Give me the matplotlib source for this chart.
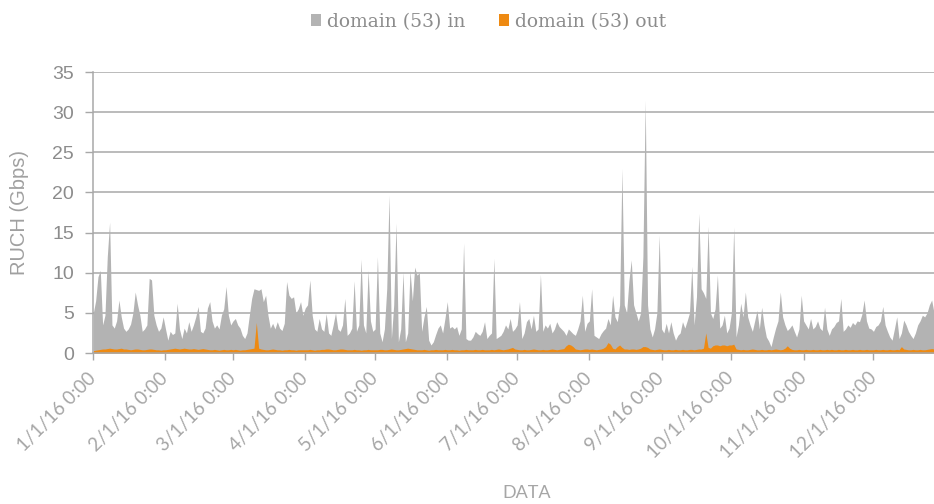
import numpy as np
import matplotlib
matplotlib.use("Agg")
import matplotlib.pyplot as plt
from matplotlib.patches import Patch

# ---- data (daily values, 2016-01-01 .. 2016-12-27) ----
start_date = "2016-01-01"

in_jan = [5.0, 6.5, 9.5, 10.3, 3.5, 4.7, 12.0, 16.3, 3.5, 3.1, 4.0, 6.6, 4.5, 3.1, 2.7, 3.0,
          3.6, 5.0, 7.6, 6.0, 4.7, 2.7, 3.0, 3.5, 9.3, 9.1, 4.7, 3.5, 2.7, 3.1, 4.5]
in_feb = [3.0, 1.6, 2.7, 2.3, 2.5, 6.2, 3.0, 1.8, 3.1, 2.5, 3.9, 2.7, 3.5, 4.5, 5.8, 2.7,
          2.5, 3.1, 5.6, 6.4, 4.0, 3.1, 3.5, 3.0, 4.7, 5.5, 8.3, 4.7, 3.5]
in_mar = [4.0, 4.3, 3.5, 3.1, 2.2, 1.8, 2.5, 4.7, 6.8, 8.0, 7.9, 7.8, 8.0, 6.4, 7.2, 4.7,
          3.1, 3.7, 3.0, 3.9, 3.1, 2.8, 3.7, 8.9, 7.2, 6.8, 7.0, 5.0, 5.5, 6.4, 4.7]
in_apr = [5.6, 6.0, 9.1, 4.7, 3.0, 2.7, 4.3, 3.0, 2.7, 4.9, 2.5, 2.2, 3.5, 5.0, 3.0,
          2.7, 3.5, 6.8, 2.2, 2.5, 3.1, 9.0, 2.7, 3.5, 11.7, 3.5, 2.5, 10.3, 4.0, 2.7]
in_may = [3.0, 12.0, 2.5, 1.4, 3.0, 8.0, 19.7, 1.8, 6.0, 16.2, 1.4, 3.0, 10.1, 1.4, 2.5, 10.3,
          6.5, 10.7, 9.7, 10.0, 2.7, 4.5, 5.8, 1.6, 1.0, 1.4, 2.3, 3.1, 3.5, 2.5, 4.3]
in_jun = [6.4, 3.1, 3.3, 3.0, 3.3, 2.2, 3.0, 13.7, 1.8, 1.6, 1.6, 2.0, 2.7, 2.4, 2.2,
          2.7, 3.9, 1.8, 2.2, 2.5, 11.8, 1.8, 2.0, 2.2, 2.7, 3.5, 3.0, 4.3, 2.7, 3.0]
in_jul = [3.5, 6.4, 1.8, 2.5, 3.9, 4.3, 3.0, 4.7, 2.7, 3.0, 9.8, 2.7, 3.5, 3.1, 3.7, 2.5,
          3.0, 3.9, 3.3, 3.0, 2.7, 2.2, 3.0, 2.7, 2.4, 2.2, 3.0, 4.0, 7.2, 2.7, 3.7]
in_aug = [4.0, 8.0, 2.2, 2.0, 1.8, 2.4, 2.8, 3.1, 4.3, 3.5, 7.2, 4.5, 3.9, 6.0, 23.0, 6.0,
          5.0, 9.0, 11.6, 6.0, 5.0, 4.0, 5.0, 12.0, 31.5, 6.0, 3.0, 2.0, 3.0, 5.0, 14.7]
in_sep = [3.0, 2.5, 3.7, 2.5, 3.9, 2.5, 1.6, 2.2, 2.5, 3.9, 3.1, 4.0, 5.0, 10.8, 3.5,
          7.0, 17.4, 8.0, 7.5, 6.8, 15.8, 5.0, 4.3, 5.5, 9.7, 3.1, 3.5, 4.7, 2.5, 3.1]
in_oct = [5.0, 15.7, 2.0, 3.5, 6.2, 4.5, 7.6, 4.5, 3.5, 2.7, 4.0, 5.3, 3.0, 5.7, 3.5, 2.0,
          1.5, 0.8, 2.0, 3.1, 4.0, 7.6, 4.5, 3.5, 2.8, 3.1, 3.5, 2.7, 2.0, 3.0, 7.2]
in_nov = [4.0, 3.5, 3.0, 4.3, 3.0, 3.3, 4.0, 3.1, 2.8, 5.7, 3.0, 2.2, 3.0, 3.3, 3.8,
          4.0, 6.8, 2.7, 3.0, 3.5, 3.2, 3.8, 3.5, 4.0, 3.9, 4.8, 6.6, 4.0, 3.1, 3.0]
in_dec = [2.7, 3.3, 3.5, 4.0, 5.8, 3.5, 2.7, 2.0, 1.6, 3.0, 4.5, 1.8, 2.5, 4.1, 3.5, 2.7,
          2.2, 1.8, 2.5, 3.5, 4.0, 4.7, 4.5, 5.0, 6.0, 6.6, 5.0]

out_jan = [0.3, 0.35, 0.4, 0.45, 0.5, 0.5, 0.55, 0.6, 0.55, 0.5, 0.5, 0.55, 0.6, 0.5, 0.5, 0.45,
           0.4, 0.45, 0.5, 0.5, 0.45, 0.4, 0.4, 0.45, 0.5, 0.5, 0.45, 0.4, 0.4, 0.35, 0.4]
out_feb = [0.4, 0.45, 0.5, 0.55, 0.6, 0.55, 0.5, 0.55, 0.6, 0.55, 0.5, 0.5, 0.55, 0.5, 0.45,
           0.5, 0.55, 0.5, 0.45, 0.4, 0.4, 0.45, 0.4, 0.35, 0.4, 0.45, 0.4, 0.4, 0.45]
out_mar = [0.4, 0.45, 0.4, 0.35, 0.4, 0.4, 0.45, 0.5, 0.55, 0.6, 3.8, 0.6, 0.5, 0.45, 0.4, 0.4,
           0.45, 0.5, 0.45, 0.4, 0.4, 0.35, 0.4, 0.4, 0.45, 0.4, 0.4, 0.35, 0.4, 0.4, 0.4]
out_apr = [0.4, 0.4, 0.45, 0.4, 0.35, 0.4, 0.4, 0.45, 0.45, 0.5, 0.5, 0.45, 0.4, 0.4, 0.45,
           0.5, 0.5, 0.45, 0.4, 0.4, 0.4, 0.45, 0.4, 0.4, 0.35, 0.4, 0.4, 0.45, 0.4, 0.4]
out_may = [0.4, 0.4, 0.45, 0.45, 0.4, 0.4, 0.45, 0.5, 0.45, 0.4, 0.4, 0.45, 0.5, 0.55, 0.6, 0.55,
           0.5, 0.45, 0.4, 0.4, 0.4, 0.45, 0.4, 0.35, 0.4, 0.4, 0.45, 0.4, 0.4, 0.4, 0.45]
out_jun = [0.4, 0.4, 0.45, 0.4, 0.4, 0.35, 0.4, 0.4, 0.45, 0.4, 0.4, 0.4, 0.45, 0.4, 0.4,
           0.45, 0.4, 0.4, 0.4, 0.45, 0.4, 0.45, 0.5, 0.45, 0.4, 0.45, 0.5, 0.6, 0.7, 0.5]
out_jul = [0.45, 0.4, 0.4, 0.45, 0.4, 0.4, 0.45, 0.5, 0.45, 0.4, 0.4, 0.45, 0.4, 0.4, 0.45, 0.5,
           0.45, 0.4, 0.45, 0.5, 0.55, 0.9, 1.1, 1.0, 0.8, 0.5, 0.45, 0.4, 0.45, 0.5, 0.5]
out_aug = [0.45, 0.5, 0.45, 0.4, 0.45, 0.5, 0.6, 0.8, 1.3, 1.1, 0.6, 0.5, 0.8, 1.0, 0.7, 0.5,
           0.5, 0.45, 0.5, 0.5, 0.45, 0.5, 0.6, 0.8, 0.8, 0.7, 0.5, 0.45, 0.4, 0.45, 0.5]
out_sep = [0.45, 0.4, 0.4, 0.45, 0.4, 0.4, 0.45, 0.4, 0.4, 0.45, 0.4, 0.4, 0.45, 0.45, 0.4,
           0.45, 0.5, 0.5, 0.6, 2.5, 0.7, 0.6, 0.9, 1.0, 1.0, 0.9, 1.0, 1.0, 0.9, 1.0]
out_oct = [1.0, 1.1, 0.5, 0.45, 0.4, 0.45, 0.4, 0.4, 0.45, 0.5, 0.45, 0.4, 0.4, 0.45, 0.4, 0.4,
           0.45, 0.4, 0.45, 0.5, 0.45, 0.4, 0.45, 0.6, 0.9, 0.6, 0.45, 0.4, 0.4, 0.45, 0.4]
out_nov = [0.4, 0.45, 0.4, 0.4, 0.45, 0.4, 0.4, 0.45, 0.4, 0.4, 0.45, 0.4, 0.45, 0.4, 0.4,
           0.45, 0.4, 0.4, 0.45, 0.4, 0.4, 0.45, 0.4, 0.4, 0.45, 0.4, 0.4, 0.45, 0.4, 0.4]
out_dec = [0.4, 0.45, 0.4, 0.4, 0.45, 0.4, 0.4, 0.45, 0.4, 0.4, 0.45, 0.4, 0.8, 0.5, 0.45, 0.4,
           0.4, 0.45, 0.4, 0.4, 0.45, 0.4, 0.4, 0.45, 0.5, 0.55, 0.5]

tick_dates = ["2016-01-01", "2016-02-01", "2016-03-01", "2016-04-01", "2016-05-01", "2016-06-01",
              "2016-07-01", "2016-08-01", "2016-09-01", "2016-10-01", "2016-11-01", "2016-12-01"]
tick_labels = ["1/1/16 0:00", "2/1/16 0:00", "3/1/16 0:00", "4/1/16 0:00", "5/1/16 0:00",
               "6/1/16 0:00", "7/1/16 0:00", "8/1/16 0:00", "9/1/16 0:00", "10/1/16 0:00",
               "11/1/16 0:00", "12/1/16 0:00"]
y_ticks = [0, 5, 10, 15, 20, 25, 30, 35]
series_names = ["domain (53) in", "domain (53) out"]
y_label = "RUCH (Gbps)"
x_label = "DATA"

# ---- assemble ----
vals_in = np.array(in_jan + in_feb + in_mar + in_apr + in_may + in_jun + in_jul + in_aug
                   + in_sep + in_oct + in_nov + in_dec)
vals_out = np.array(out_jan + out_feb + out_mar + out_apr + out_may + out_jun + out_jul + out_aug
                    + out_sep + out_oct + out_nov + out_dec)
dates = np.datetime64(start_date) + np.arange(len(vals_in)).astype("timedelta64[D]")
dates = dates.astype("datetime64[D]").astype("O")
tick_pos = [np.datetime64(d).astype("O") for d in tick_dates]

GRAY = "#B3B3B3"
ORANGE = "#EE8A12"
GRID = "#A8A8A8"
TXT = "#8C8C8C"

fig = plt.figure(figsize=(9.34, 5.04), dpi=100)
ax = fig.add_axes([0.0999, 0.2996, 0.9001, 0.5575])

ax.fill_between(dates, 0, vals_in, color=GRAY, lw=0, zorder=2)
ax.fill_between(dates, 0, vals_out, color=ORANGE, lw=0, zorder=3)

ax.set_ylim(0, 35)
ax.set_xlim(dates[0], dates[-1])
ax.set_yticks(y_ticks)
ax.yaxis.grid(True, color=GRID, lw=1.1, zorder=1)
ax.set_axisbelow(True)
ax.set_xticks(tick_pos)
ax.set_xticklabels(tick_labels, rotation=45, ha="right", va="center",
                   rotation_mode="anchor", family="Lato", fontsize=13.5, color="#A6A6A6")
for lab in ax.get_yticklabels():
    lab.set_family("Liberation Sans")
ax.tick_params(axis="y", length=6, width=1, color=GRID, pad=8, labelsize=14, labelcolor=TXT)
ax.tick_params(axis="x", length=5, width=1, color=GRID, pad=11)

for s in ["top", "right"]:
    ax.spines[s].set_visible(False)
for s in ["left", "bottom"]:
    ax.spines[s].set_color(GRID)
    ax.spines[s].set_linewidth(1.1)
    ax.spines[s].set_zorder(4)

ax.set_ylabel(y_label, family="Liberation Sans", fontsize=14.5, color="#A0A0A0", labelpad=17)
fig.text(0.564, 0.022, x_label, family="Lato", fontsize=13, color="#A6A6A6",
         ha="center", va="center")

handles = [Patch(facecolor=GRAY, edgecolor="none"), Patch(facecolor=ORANGE, edgecolor="none")]
fig.legend(handles, series_names, loc="center", bbox_to_anchor=(0.523, 0.957), ncol=2,
           frameon=False, prop={"family": "DejaVu Serif", "size": 13.5},
           labelcolor=TXT, handlelength=0.55, handleheight=0.55, handletextpad=0.3,
           columnspacing=1.8)

fig.savefig("out.png", dpi=100)
